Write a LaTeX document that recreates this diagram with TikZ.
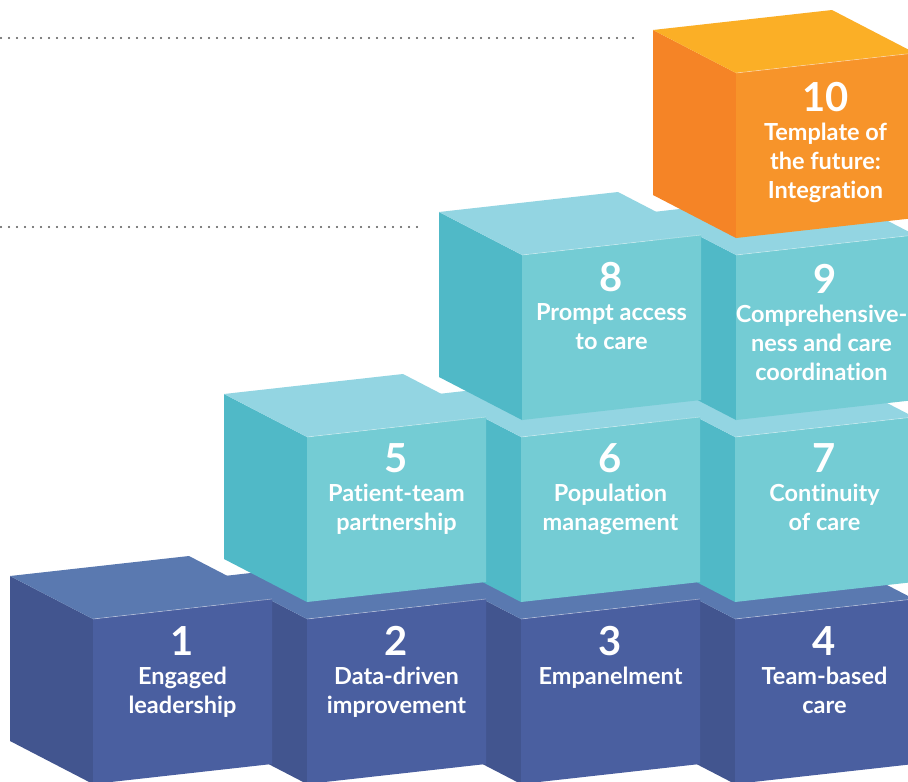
\documentclass[tikz,border=0pt]{standalone}
\usepackage{fontspec}
\setmainfont{Lato}[Ligatures={NoCommon}]
\usetikzlibrary{calc}

\definecolor{bluefrontc}{HTML}{4A5FA0}
\definecolor{bluesidec}{HTML}{42558F}
\definecolor{bluetopc}{HTML}{5A79B0}
\definecolor{tealfrontc}{HTML}{74CCD4}
\definecolor{tealsidec}{HTML}{50B9C7}
\definecolor{tealtopc}{HTML}{93D5E2}
\definecolor{orangefrontc}{HTML}{F7942A}
\definecolor{orangesidec}{HTML}{F58426}
\definecolor{orangetopc}{HTML}{FBAF26}
\definecolor{dotc}{HTML}{555555}

\tikzset{
  bluefront/.style={fill=bluefrontc},
  blueside/.style={fill=bluesidec},
  bluetop/.style={fill=bluetopc},
  tealfront/.style={fill=tealfrontc},
  tealside/.style={fill=tealsidec},
  tealtop/.style={fill=tealtopc},
  orangefront/.style={fill=orangefrontc},
  orangeside/.style={fill=orangesidec},
  orangetop/.style={fill=orangetopc},
  rimline/.style={draw=white, draw opacity=0.45, line width=0.6pt},
  guide/.style={draw=dotc, line width=2.2pt, line cap=round, dash pattern=on 0pt off 8pt},
  numlabel/.style={text=white, anchor=base, inner sep=0pt,
    font=\fontsize{40}{40}\selectfont\bfseries},
  namelabel/.style={text=white, anchor=base, inner sep=0pt,
    font=\fontsize{23.5}{29}\selectfont\bfseries},
}

% One block: #1 = front-top-left corner, #2 = colour family
\newcommand\blockcube[2]{%
  \begin{scope}[shift={#1}]
    \fill[#2side]  (0,0) -- (-83,-43) -- (-83,122) -- (0,165) -- cycle;
    \fill[#2top]   (0,0) -- (179,-20) -- (96,-63) -- (-83,-43) -- cycle;
    \fill[#2front] (0,0) -- (179,-20) -- (179,145) -- (0,165) -- cycle;
    \path[rimline] (0,0) -- (179,-20);
  \end{scope}}

% Number and caption on a block's front face:
% [#1] caption x-shift, #2 number, #3 front-top-left corner,
% #4 caption, #5 baseline offset
\newcommand\blocktext[5][0]{%
  \node[numlabel] (n#2) at ($#3+(89.5,#5)$) {#2};
  \node[namelabel] (t#2) at ($#3+(89.5+#1,#5+29)$)
    {\begin{tabular}[t]{@{}c@{}}#4\end{tabular}};}

\begin{document}
\begin{tikzpicture}[x=1pt,y=-1pt]
  \useasboundingbox (0,0) rectangle (908,782);
  \clip (0,0) rectangle (908,782);
  \fill[white] (0,0) rectangle (908,782);

  % dotted guide lines
  \coordinate (g1a) at (1,38);
  \coordinate (g1b) at (637,38);
  \coordinate (g2a) at (1,227);
  \coordinate (g2b) at (424,227);
  \draw[guide] (g1a) -- (g1b);
  \draw[guide] (g2a) -- (g2b);

  % bottom row
  \blockcube{(735,619)}{blue}
  \blockcube{(521,619)}{blue}
  \blockcube{(307,619)}{blue}
  \blockcube{(93,619)}{blue}
  % second row
  \blockcube{(735,437)}{teal}
  \blockcube{(521,437)}{teal}
  \blockcube{(307,437)}{teal}
  % third row
  \blockcube{(736,255)}{teal}
  \blockcube{(522,255)}{teal}
  % top block
  \blockcube{(736,73)}{orange}

  \blocktext{1}{(93,619)}{Engaged\\leadership}{36}
  \blocktext{2}{(307,619)}{Data-driven\\improvement}{36}
  \blocktext{3}{(521,619)}{Empanelment}{36}
  \blocktext{4}{(735,619)}{Team-based\\care}{36}
  \blocktext{5}{(307,437)}{Patient-team\\partnership}{35}
  \blocktext{6}{(521,437)}{Population\\management}{35}
  \blocktext{7}{(735,437)}{Continuity\\of care}{35}
  \blocktext{8}{(522,255)}{Prompt access\\to care}{36}
  \blocktext[-4]{9}{(736,255)}{Comprehensive-\\ness and care\\coordination}{38}
  \blocktext{10}{(736,73)}{Template of\\the future:\\Integration}{38}
\end{tikzpicture}
\end{document}
